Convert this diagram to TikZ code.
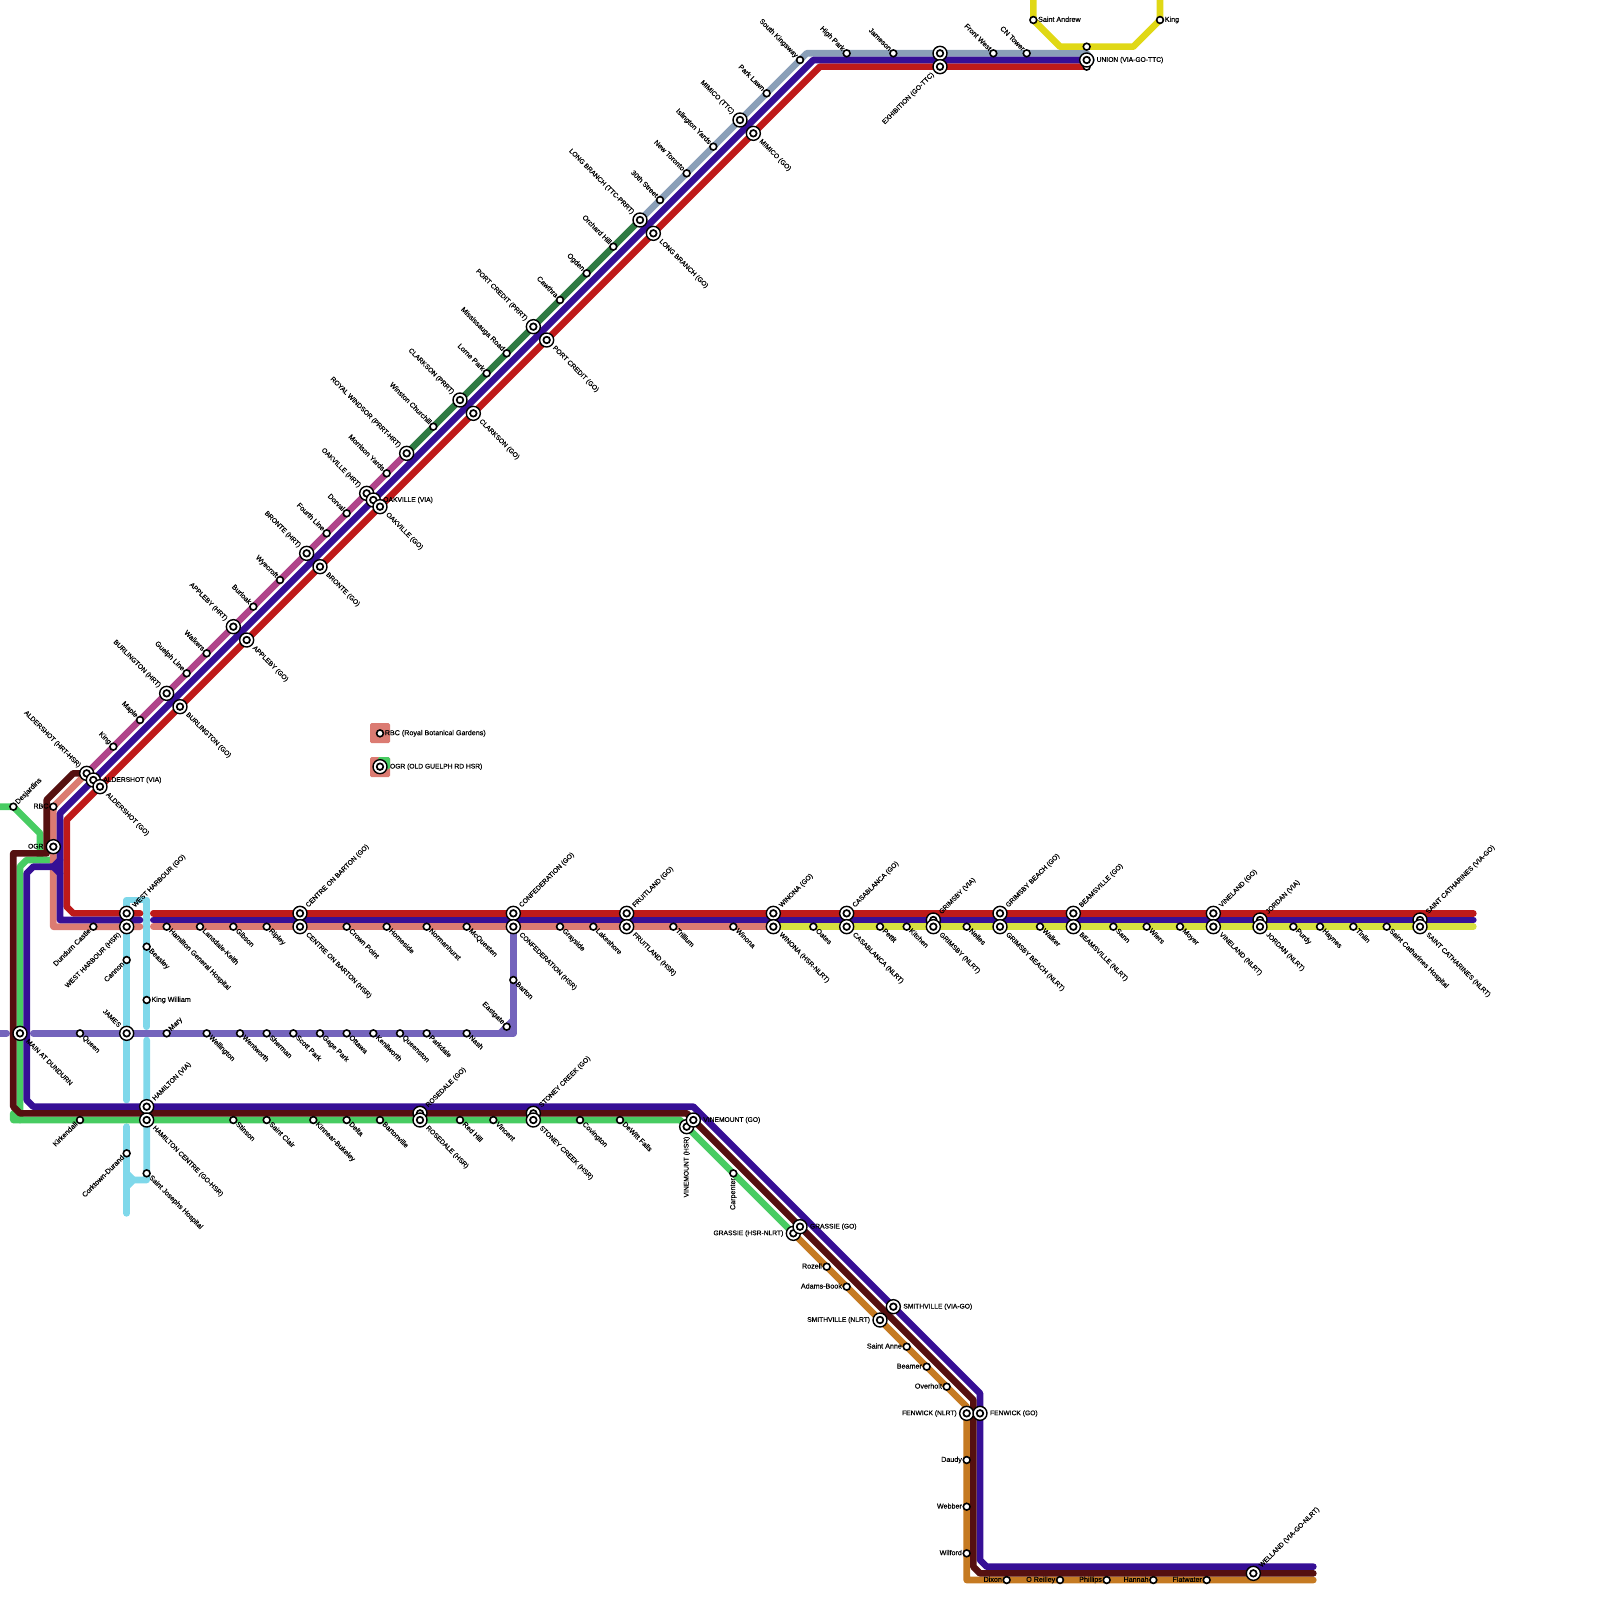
\documentclass[tikz,border=0pt]{standalone}
\usepackage{fontspec}
\setmainfont{Liberation Sans}
\newfontfamily\lblfont[FakeBold=0.5]{Liberation Sans}
\pgfdeclarelayer{lines}
\pgfsetlayers{lines,main}
\definecolor{cRed}{HTML}{BE1A1A}
\definecolor{cPur}{HTML}{360F96}
\definecolor{cSal}{HTML}{DB7B72}
\definecolor{cBro}{HTML}{551010}
\definecolor{cGre}{HTML}{48CC62}
\definecolor{cDgr}{HTML}{2F7A43}
\definecolor{cPin}{HTML}{B0448A}
\definecolor{cSte}{HTML}{8A9FB8}
\definecolor{cYel}{HTML}{E0D815}
\definecolor{cLim}{HTML}{D6E040}
\definecolor{cOra}{HTML}{C57A22}
\definecolor{cCya}{HTML}{7FD8EA}
\definecolor{cLav}{HTML}{7464BC}
\tikzset{
  ss/.style={circle,draw=black,fill=white,line width=1.6pt,inner sep=0pt,outer sep=0pt,minimum size=6.8pt},
  bs/.style={circle,draw=black,fill=white,line width=1.4pt,inner sep=0pt,outer sep=0pt,minimum size=14pt,
    path picture={\draw[black,line width=1.7pt] (path picture bounding box.center) circle (3.3pt);}},
  lbl/.style={inner sep=0pt,outer sep=0pt,text=black,text height=5.2pt,text depth=1.5pt},
  lblss/.style={font=\lblfont\fontsize{7.15pt}{8pt}\selectfont},
  lblbs/.style={font=\lblfont\fontsize{6.7pt}{8pt}\selectfont},
  lNE/.style={rotate=45,anchor=west},
  lSE/.style={rotate=-45,anchor=west},
  lNW/.style={rotate=-45,anchor=east},
  lSW/.style={rotate=45,anchor=east},
  lE/.style={anchor=west},
  lW/.style={anchor=east},
  lS/.style={rotate=90,anchor=east},
  route/.style={line width=6.67pt,line cap=round,line join=round},
}
\newcommand{\alNE}{45}\newcommand{\alSE}{-45}\newcommand{\alNW}{135}\newcommand{\alSW}{-135}
\newcommand{\alE}{0}\newcommand{\alW}{180}\newcommand{\alS}{-90}
\newcommand{\rss}{4.8pt}\newcommand{\rbs}{10pt}
\newcommand{\mk}[6]{%
  \node[#4] (#1) at (#2,#3) {};
  \node[lbl,lbl#4,#5] (#1-l) at ([shift={(\csname a#5\endcsname:\csname r#4\endcsname)}]#1.center) {#6};
}
\begin{document}
\begin{tikzpicture}[x=6.66667pt,y=-6.66667pt]
\useasboundingbox (0,0) rectangle (240,240);
% ---- stations: row at y=137/139
\mk{whgo}{19}{137}{bs}{lNE}{WEST HARBOUR (GO)}
\mk{whhsr}{19}{139}{bs}{lSW}{WEST HARBOUR (HSR)}
\mk{dundurn}{14}{139}{ss}{lSW}{Dundurn Castle}
\mk{hgh}{25}{139}{ss}{lSE}{Hamilton General Hospital}
\mk{lansdale}{30}{139}{ss}{lSE}{Lansdale-Keith}
\mk{gibson}{35}{139}{ss}{lSE}{Gibson}
\mk{ripley}{40}{139}{ss}{lSE}{Ripley}
\mk{cobgo}{45}{137}{bs}{lNE}{CENTRE ON BARTON (GO)}
\mk{cobhsr}{45}{139}{bs}{lSE}{CENTRE ON BARTON (HSR)}
\mk{crown}{52}{139}{ss}{lSE}{Crown Point}
\mk{homeside}{58}{139}{ss}{lSE}{Homeside}
\mk{norman}{64}{139}{ss}{lSE}{Normanhurst}
\mk{mcq}{70}{139}{ss}{lSE}{McQuesten}
\mk{confgo}{77}{137}{bs}{lNE}{CONFEDERATION (GO)}
\mk{confhsr}{77}{139}{bs}{lSE}{CONFEDERATION (HSR)}
\mk{grayside}{84}{139}{ss}{lSE}{Grayside}
\mk{lakeshore}{89}{139}{ss}{lSE}{Lakeshore}
\mk{fruitgo}{94}{137}{bs}{lNE}{FRUITLAND (GO)}
\mk{fruithsr}{94}{139}{bs}{lSE}{FRUITLAND (HSR)}
\mk{trillium}{101}{139}{ss}{lSE}{Trillium}
\mk{winonas}{110}{139}{ss}{lSE}{Winona}
\mk{wingo}{116}{137}{bs}{lNE}{WINONA (GO)}
\mk{winhsr}{116}{139}{bs}{lSE}{WINONA (HSR-NLRT)}
\mk{oates}{122}{139}{ss}{lSE}{Oates}
\mk{casago}{127}{137}{bs}{lNE}{CASABLANCA (GO)}
\mk{casanl}{127}{139}{bs}{lSE}{CASABLANCA (NLRT)}
\mk{pettit}{132}{139}{ss}{lSE}{Pettit}
\mk{kitchen}{136}{139}{ss}{lSE}{Kitchen}
\mk{grimvia}{140}{138}{bs}{lNE}{GRIMSBY (VIA)}
\mk{grimnl}{140}{139}{bs}{lSE}{GRIMSBY (NLRT)}
\mk{nelles}{145}{139}{ss}{lSE}{Nelles}
\mk{gbgo}{150}{137}{bs}{lNE}{GRIMSBY BEACH (GO)}
\mk{gbnl}{150}{139}{bs}{lSE}{GRIMSBY BEACH (NLRT)}
\mk{walker}{156}{139}{ss}{lSE}{Walker}
\mk{beamgo}{161}{137}{bs}{lNE}{BEAMSVILLE (GO)}
\mk{beamnl}{161}{139}{bs}{lSE}{BEAMSVILLE (NLRT)}
\mk{sann}{167}{139}{ss}{lSE}{Sann}
\mk{wiers}{172}{139}{ss}{lSE}{Wiers}
\mk{moyer}{177}{139}{ss}{lSE}{Moyer}
\mk{vinego}{182}{137}{bs}{lNE}{VINELAND (GO)}
\mk{vinenl}{182}{139}{bs}{lSE}{VINELAND (NLRT)}
\mk{jorvia}{189}{138}{bs}{lNE}{JORDAN (VIA)}
\mk{jornl}{189}{139}{bs}{lSE}{JORDAN (NLRT)}
\mk{purdy}{194}{139}{ss}{lSE}{Purdy}
\mk{haynes}{198}{139}{ss}{lSE}{Haynes}
\mk{tinlin}{203}{139}{ss}{lSE}{Tinlin}
\mk{schosp}{208}{139}{ss}{lSE}{Saint Catharines Hospital}
\mk{scvia}{213}{138}{bs}{lNE}{SAINT CATHARINES (VIA-GO)}
\mk{scnl}{213}{139}{bs}{lSE}{SAINT CATHARINES (NLRT)}
% ---- west
\mk{desj}{2}{121}{ss}{lNE}{Desjardins}
\mk{rbc}{8}{121}{ss}{lW}{RBC}
\mk{ogr}{8}{127}{bs}{lW}{OGR}
\mk{cannon}{19}{144}{ss}{lSW}{Cannon}
\mk{beasley}{22}{142}{ss}{lSE}{Beasley}
\mk{kingw}{22}{150}{ss}{lE}{King William}
\mk{james}{19}{155}{bs}{lNW}{JAMES}
\mk{mary}{25}{155}{ss}{lNE}{Mary}
\mk{queen}{12}{155}{ss}{lSE}{Queen}
\mk{wellington}{31}{155}{ss}{lSE}{Wellington}
\mk{wentworth}{36}{155}{ss}{lSE}{Wentworth}
\mk{sherman}{40}{155}{ss}{lSE}{Sherman}
\mk{scott}{44}{155}{ss}{lSE}{Scott Park}
\mk{gage}{48}{155}{ss}{lSE}{Gage Park}
\mk{ottawa}{52}{155}{ss}{lSE}{Ottawa}
\mk{kenil}{56}{155}{ss}{lSE}{Kenilworth}
\mk{queenston}{60}{155}{ss}{lSE}{Queenston}
\mk{parkdale}{64}{155}{ss}{lSE}{Parkdale}
\mk{nash}{70}{155}{ss}{lSE}{Nash}
\mk{barton}{77}{147}{ss}{lSE}{Barton}
\mk{eastgate}{76}{154}{ss}{lNW}{Eastgate}
\mk{mainat}{3}{155}{bs}{lSE}{MAIN AT DUNDURN}
% ---- row 166-168
\mk{hamvia}{22}{166}{bs}{lNE}{HAMILTON (VIA)}
\mk{hamcen}{22}{168}{bs}{lSE}{HAMILTON CENTRE (GO-HSR)}
\mk{kirk}{12}{168}{ss}{lSW}{Kirkendall}
\mk{cork}{19}{173}{ss}{lSW}{Corktown-Durand}
\mk{sjh}{22}{176}{ss}{lSE}{Saint Josephs Hospital}
\mk{stinson}{35}{168}{ss}{lSE}{Stinson}
\mk{sclair}{40}{168}{ss}{lSE}{Saint Clair}
\mk{kinnear}{47}{168}{ss}{lSE}{Kinnear-Bukeley}
\mk{delta}{52}{168}{ss}{lSE}{Delta}
\mk{bartonv}{57}{168}{ss}{lSE}{Bartonville}
\mk{rosego}{63}{167}{bs}{lNE}{ROSEDALE (GO)}
\mk{rosehsr}{63}{168}{bs}{lSE}{ROSEDALE (HSR)}
\mk{redhill}{69}{168}{ss}{lSE}{Red Hill}
\mk{vincent}{74}{168}{ss}{lSE}{Vincent}
\mk{stongo}{80}{167}{bs}{lNE}{STONEY CREEK (GO)}
\mk{stonhsr}{80}{168}{bs}{lSE}{STONEY CREEK (HSR)}
\mk{covington}{87}{168}{ss}{lSE}{Covington}
\mk{dewitt}{93}{168}{ss}{lSE}{DeWitt Falls}
\mk{vinhsr}{103}{169}{bs}{lS}{VINEMOUNT (HSR)}
\mk{vingo}{104}{168}{bs}{lE}{VINEMOUNT (GO)}
\mk{carp}{110}{176}{ss}{lS}{Carpenter}
\mk{grashsr}{119}{185}{bs}{lW}{GRASSIE (HSR-NLRT)}
\mk{grasgo}{120}{184}{bs}{lE}{GRASSIE (GO)}
\mk{rozell}{124}{190}{ss}{lW}{Rozell}
\mk{adams}{127}{193}{ss}{lW}{Adams-Book}
\mk{smithgo}{134}{196}{bs}{lE}{SMITHVILLE (VIA-GO)}
\mk{smithnl}{132}{198}{bs}{lW}{SMITHVILLE (NLRT)}
\mk{sanne}{136}{202}{ss}{lW}{Saint Anne}
\mk{beamer}{139}{205}{ss}{lW}{Beamer}
\mk{overholt}{142}{208}{ss}{lW}{Overholt}
\mk{fennl}{145}{212}{bs}{lW}{FENWICK (NLRT)}
\mk{fengo}{147}{212}{bs}{lE}{FENWICK (GO)}
\mk{daudy}{145}{219}{ss}{lW}{Daudy}
\mk{webber}{145}{226}{ss}{lW}{Webber}
\mk{wilford}{145}{233}{ss}{lW}{Wilford}
\mk{dixon}{151}{237}{ss}{lW}{Dixon}
\mk{oreilley}{159}{237}{ss}{lW}{O Reilley}
\mk{phillips}{166}{237}{ss}{lW}{Phillips}
\mk{hannah}{173}{237}{ss}{lW}{Hannah}
\mk{flatwater}{181}{237}{ss}{lW}{Flatwater}
\mk{welland}{188}{236}{bs}{lNE}{WELLAND (VIA-GO-NLRT)}
% ---- main diagonal
\mk{aldhrt}{13}{116}{bs}{lNW}{ALDERSHOT (HRT-HSR)}
\mk{aldvia}{14}{117}{bs}{lE}{ALDERSHOT (VIA)}
\mk{aldgo}{15}{118}{bs}{lSE}{ALDERSHOT (GO)}
\mk{king}{17}{112}{ss}{lNW}{King}
\mk{maple}{21}{108}{ss}{lNW}{Maple}
\mk{burhrt}{25}{104}{bs}{lNW}{BURLINGTON (HRT)}
\mk{burgo}{27}{106}{bs}{lSE}{BURLINGTON (GO)}
\mk{guelph}{28}{101}{ss}{lNW}{Guelph Line}
\mk{walkers}{31}{98}{ss}{lNW}{Walkers}
\mk{apphrt}{35}{94}{bs}{lNW}{APPLEBY (HRT)}
\mk{appgo}{37}{96}{bs}{lSE}{APPLEBY (GO)}
\mk{burloak}{38}{91}{ss}{lNW}{Burloak}
\mk{wyecroft}{42}{87}{ss}{lNW}{Wyecroft}
\mk{brohrt}{46}{83}{bs}{lNW}{BRONTE (HRT)}
\mk{brogo}{48}{85}{bs}{lSE}{BRONTE (GO)}
\mk{fourth}{49}{80}{ss}{lNW}{Fourth Line}
\mk{dorval}{52}{77}{ss}{lNW}{Dorval}
\mk{oakhrt}{55}{74}{bs}{lNW}{OAKVILLE (HRT)}
\mk{oakvia}{56}{75}{bs}{lE}{OAKVILLE (VIA)}
\mk{oakgo}{57}{76}{bs}{lSE}{OAKVILLE (GO)}
\mk{morrison}{58}{71}{ss}{lNW}{Morrison Yards}
\mk{royal}{61}{68}{bs}{lNW}{ROYAL WINDSOR (PRRT-HRT)}
\mk{winston}{65}{64}{ss}{lNW}{Winston Churchill}
\mk{clarkp}{69}{60}{bs}{lNW}{CLARKSON (PRRT)}
\mk{clarkgo}{71}{62}{bs}{lSE}{CLARKSON (GO)}
\mk{lorne}{73}{56}{ss}{lNW}{Lorne Park}
\mk{missis}{76}{53}{ss}{lNW}{Mississauga Road}
\mk{portp}{80}{49}{bs}{lNW}{PORT CREDIT (PRRT)}
\mk{portgo}{82}{51}{bs}{lSE}{PORT CREDIT (GO)}
\mk{cawthra}{84}{45}{ss}{lNW}{Cawthra}
\mk{ogden}{88}{41}{ss}{lNW}{Ogden}
\mk{orchard}{92}{37}{ss}{lNW}{Orchard Hill}
\mk{longp}{96}{33}{bs}{lNW}{LONG BRANCH (TTC-PRRT)}
\mk{longgo}{98}{35}{bs}{lSE}{LONG BRANCH (GO)}
\mk{thirtieth}{99}{30}{ss}{lNW}{30th Street}
\mk{newtor}{103}{26}{ss}{lNW}{New Toronto}
\mk{islington}{107}{22}{ss}{lNW}{Islington Yards}
\mk{mimttc}{111}{18}{bs}{lNW}{MIMICO (TTC)}
\mk{mimgo}{113}{20}{bs}{lSE}{MIMICO (GO)}
\mk{parklawn}{115}{14}{ss}{lNW}{Park Lawn}
\mk{skings}{120}{9}{ss}{lNW}{South Kingsway}
\mk{highpark}{127}{8}{ss}{lNW}{High Park}
\mk{jameson}{134}{8}{ss}{lNW}{Jameson}
\node[bs] (exhtop) at (141,8) {};
\mk{exhgo}{141}{10}{bs}{lSW}{EXHIBITION (GO-TTC)}
\mk{frontw}{149}{8}{ss}{lNW}{Front West}
\mk{cntower}{154}{8}{ss}{lNW}{CN Tower}
\node[ss] (unionup) at (163,7) {};
\node[ss] (unionlo) at (163,10) {};
\mk{union}{163}{9}{bs}{lE}{UNION (VIA-GO-TTC)}
\mk{sandrew}{155}{3}{ss}{lE}{Saint Andrew}
\mk{kingst}{174}{3}{ss}{lE}{King}
% ---- legend
\mk{legrbc}{57}{110}{ss}{lE}{RBC (Royal Botanical Gardens)}
\mk{legogr}{57}{115}{bs}{lE}{OGR (OLD GUELPH RD HSR)}
% ---- bends
\foreach \n/\p in {
  cyA/{19,165},cyB/{19,135},cyC/{22,135},cyD/{22,154},cyE/{22,156},cyF/{22,177},cyG/{20,177},cyH/{19,178},
  cyI/{19,169},cyJ/{19,182},cyK/{19,176},
  lvA/{0,155},lvB/{1,155},lvC/{5,155},lvD/{77,155},lvE/{77,139},lvF/{75,155},lvG/{77,153},
  grA/{0,121},grB/{6,125},grC/{6,129},grD/{8,129},grE/{4,129},grF/{3,130},grG/{3,168},grH/{2,168},grI/{102,168},grJ/{2,167},
  saA/{8,139},saB/{21,139},saC/{23,139},saD/{116,139},
  liE/{221,139},
  orA/{145,211},orB/{145,237},orC/{197,237},
  stA/{121,8},stB/{163,8},stC/{163.75,9},
  yeA/{155,0},yeB/{159,7},yeC/{170,7},yeD/{174,0},
  reA/{163,10},reB/{123,10},reC/{10,123},reD/{10,136},reE/{11,137},reF/{21,137},reG/{23,137},reH/{221,137},
  puA/{163,9},puB/{122,9},puC/{9,122},puD/{9,138},puE/{21,138},puF/{23,138},puG/{221,138},
  puH/{9,129},puI/{8,130},puJ/{9,131},puK/{5,130},puL/{4,131},puM/{4,165},puN/{5,166},puO/{104,166},
  puP/{147,209},puQ/{147,234},puR/{148,235},puS/{197,235},
  brA/{11,116},brB/{7,120},brC/{7,128},brD/{2,128},brE/{2,166},brF/{3,167},brG/{103,167},brH/{146,210},
  brI/{146,235},brJ/{147,236},brK/{197,236}}
  {\coordinate (\n) at (\p);}
% ---- routes
\begin{pgfonlayer}{lines}
\fill[cSal,rounded corners=1.5pt] (370pt,-723pt) rectangle (390pt,-743pt);
\fill[cSal,rounded corners=1.5pt] (370pt,-757pt) rectangle (390pt,-777pt);
\fill[cGre,rounded corners=1.5pt] (378pt,-757pt) rectangle (390pt,-769pt);
\draw[route,cCya] (cyA) -- (cyB) -- (cyC) -- (cyD);
\draw[route,cCya] (cyE) -- (cyF) -- (cyG) -- (cyH);
\draw[route,cCya] (cyI) -- (cyJ);
\draw[route,cCya] (cyK) -- (cyG);
\draw[route,cLav] (lvA) -- (lvB);
\draw[route,cLav] (lvC) -- (lvD) -- (lvE);
\draw[route,cLav] (lvF) -- (lvG);
\draw[route,cGre] (grA) -- (desj.center) -- (grB) -- (grC);
\draw[route,cGre] (grD) -- (grE) -- (grF) -- (grG) -- (grH) -- (grJ);
\draw[route,cGre] (grG) -- (grI) -- (grashsr.center);
\draw[route,cSal] (aldhrt.center) -- (rbc.center) -- (saA) -- (saB);
\draw[route,cSal] (saC) -- (saD);
\draw[route,cLim] (saD) -- (liE);
\draw[route,cOra] (grashsr.center) -- (orA) -- (orB) -- (orC);
\draw[route,cPin] (aldhrt.center) -- (royal.center);
\draw[route,cDgr] (royal.center) -- (longp.center);
\draw[route,cSte] (longp.center) -- (stA) -- (stB) -- (stC);
\draw[route,cYel] (yeA) -- (sandrew.center) -- (yeB) -- (yeC) -- (kingst.center) -- (yeD);
\draw[route,cRed] (reA) -- (reB) -- (reC) -- (reD) -- (reE) -- (reF);
\draw[route,cRed] (reG) -- (reH);
\draw[route,cPur] (puA) -- (puB) -- (puC) -- (puD) -- (puE);
\draw[route,cPur] (puF) -- (puG);
\draw[route,cPur] (puH) -- (puI) -- (puJ);
\draw[route,cPur] (puI) -- (puK) -- (puL) -- (puM) -- (puN) -- (puO) -- (puP) -- (puQ) -- (puR) -- (puS);
\draw[route,cBro] (aldhrt.center) -- (brA) -- (brB) -- (brC) -- (brD) -- (brE) -- (brF) -- (brG) -- (brH) -- (brI) -- (brJ) -- (brK);
\end{pgfonlayer}
\end{tikzpicture}
\end{document}
